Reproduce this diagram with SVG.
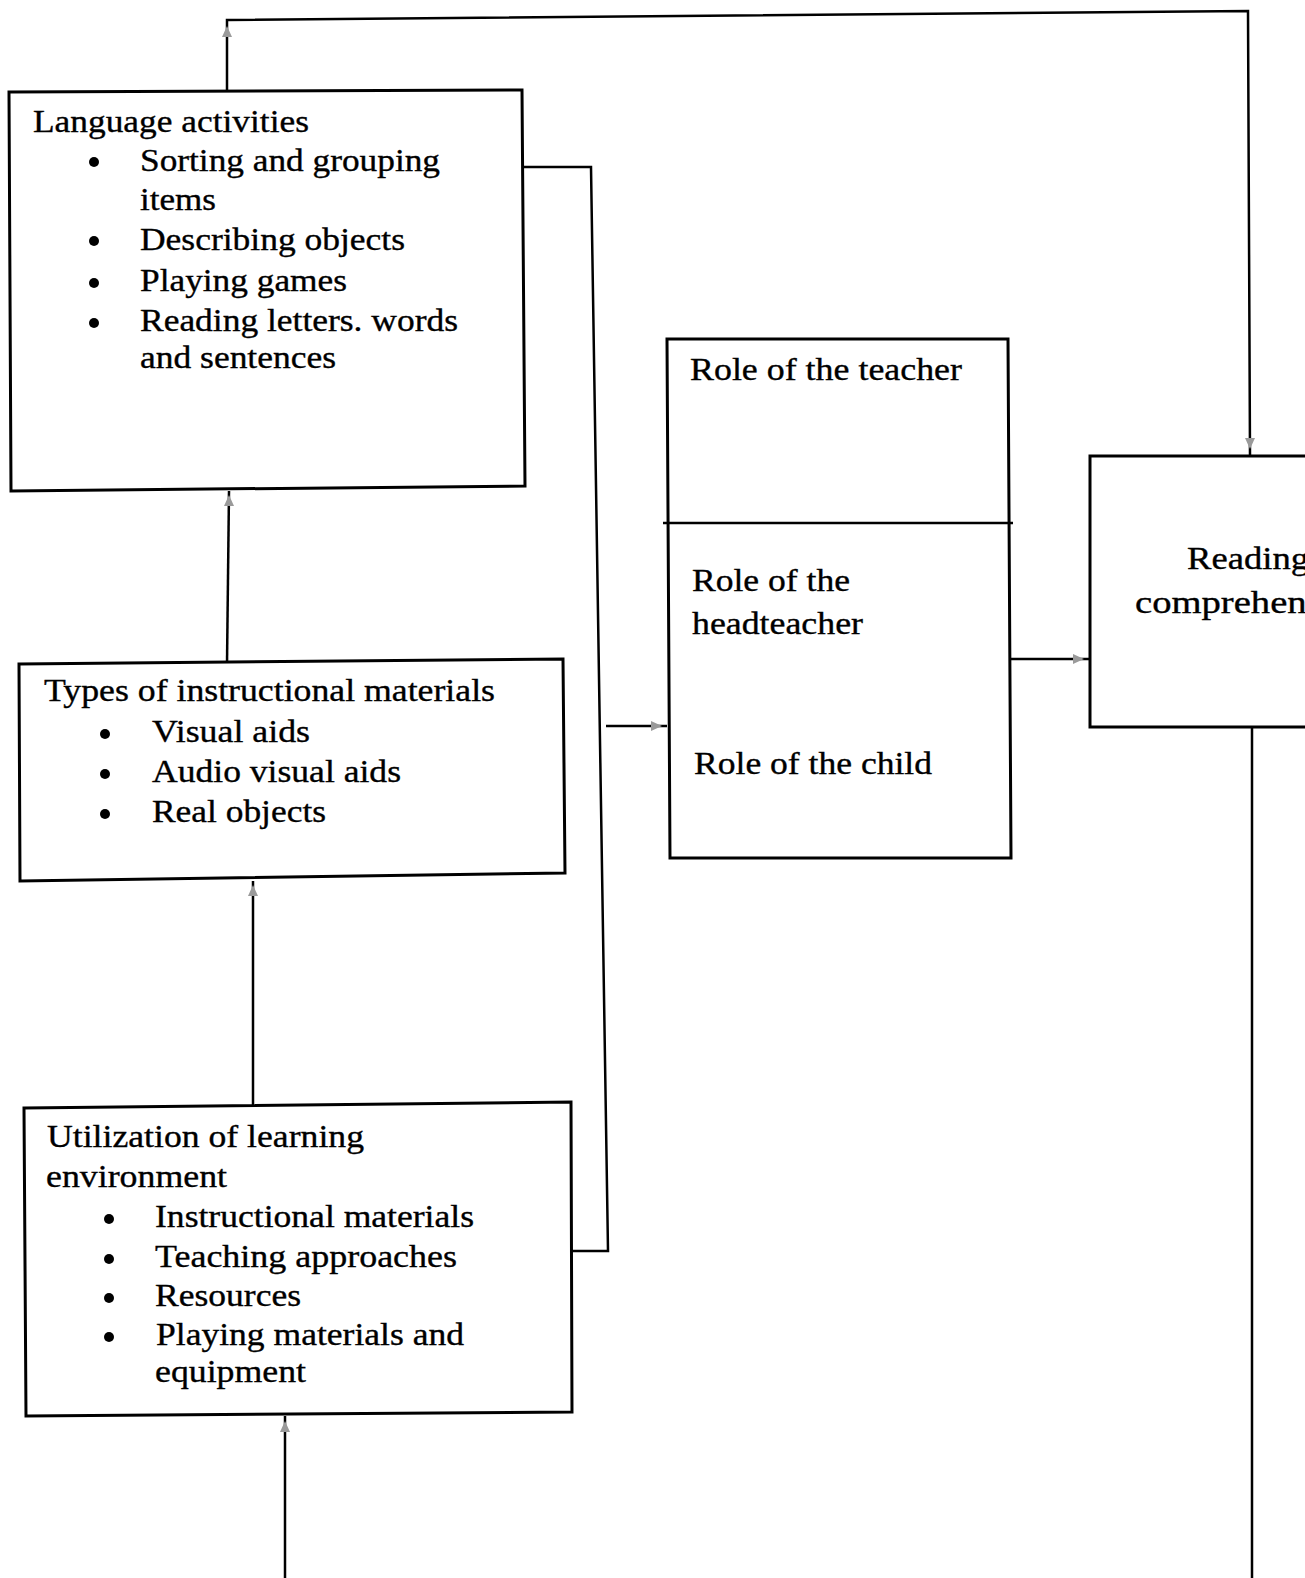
<svg xmlns="http://www.w3.org/2000/svg" width="1305" height="1578" viewBox="0 0 1305 1578">
<style>
.box{fill:#fff;stroke:#000;stroke-width:3;stroke-linejoin:miter}
.ln{fill:none;stroke:#000;stroke-width:2.5}
.t{font-family:"Liberation Serif","Times New Roman",serif;font-size:31px;fill:#000;stroke:#000;stroke-width:0.35}
.dot{fill:#000}
.ah{fill:#9a9a9a}
</style>
<rect width="1305" height="1578" fill="#fff"/>
<g id="connectors">
<path class="ln" d="M227,92 L227,20 L1248,11 L1250,456"/>
<path class="ln" d="M523,167 L591,167 L608,1251 L571,1251"/>
<path class="ln" d="M606,726 L667,726"/>
<path class="ln" d="M1011,659 L1090,659"/>
<path class="ln" d="M227,664 L229,491"/>
<path class="ln" d="M253,1108 L253,881"/>
<path class="ln" d="M285,1578 L285,1416"/>
<path class="ln" d="M1252,727 L1252,1578"/>
<path class="ah" d="M227,26 L222,37 L232,37 Z"/>
<path class="ah" d="M1250,449 L1245,438 L1255,438 Z"/>
<path class="ah" d="M229,495 L224,506 L234,506 Z"/>
<path class="ah" d="M253,885 L248,896 L258,896 Z"/>
<path class="ah" d="M285,1421 L280,1432 L290,1432 Z"/>
<path class="ah" d="M662,726 L651,721 L651,731 Z"/>
<path class="ah" d="M1084,659 L1073,654 L1073,664 Z"/>
</g>
<g id="language-activities">
<path class="box" d="M9,92 L522,90 L525,486 L11,491 Z"/>
<text class="t" x="33" y="132" textLength="276" lengthAdjust="spacingAndGlyphs">Language activities</text>
<circle class="dot" cx="94" cy="162" r="5"/>
<text class="t" x="140" y="171" textLength="300" lengthAdjust="spacingAndGlyphs">Sorting and grouping</text>
<text class="t" x="140" y="210" textLength="76" lengthAdjust="spacingAndGlyphs">items</text>
<circle class="dot" cx="94" cy="241" r="5"/>
<text class="t" x="140" y="250" textLength="265" lengthAdjust="spacingAndGlyphs">Describing objects</text>
<circle class="dot" cx="94" cy="283" r="5"/>
<text class="t" x="140" y="291" textLength="207" lengthAdjust="spacingAndGlyphs">Playing games</text>
<circle class="dot" cx="94" cy="323" r="5"/>
<text class="t" x="140" y="331" textLength="318" lengthAdjust="spacingAndGlyphs">Reading letters. words</text>
<text class="t" x="140" y="368" textLength="196" lengthAdjust="spacingAndGlyphs">and sentences</text>
</g>
<g id="types-of-instructional-materials">
<path class="box" d="M19,664 L563,659 L565,873 L20,881 Z"/>
<text class="t" x="44" y="701" textLength="451" lengthAdjust="spacingAndGlyphs">Types of instructional materials</text>
<circle class="dot" cx="105" cy="734" r="5"/>
<text class="t" x="152" y="742" textLength="158" lengthAdjust="spacingAndGlyphs">Visual aids</text>
<circle class="dot" cx="105" cy="774" r="5"/>
<text class="t" x="152" y="782" textLength="249" lengthAdjust="spacingAndGlyphs">Audio visual aids</text>
<circle class="dot" cx="105" cy="814" r="5"/>
<text class="t" x="152" y="822" textLength="174" lengthAdjust="spacingAndGlyphs">Real objects</text>
</g>
<g id="utilization-of-learning-environment">
<path class="box" d="M24,1108 L571,1102 L572,1412 L26,1416 Z"/>
<text class="t" x="47" y="1147" textLength="317" lengthAdjust="spacingAndGlyphs">Utilization of learning</text>
<text class="t" x="46" y="1187" textLength="181" lengthAdjust="spacingAndGlyphs">environment</text>
<circle class="dot" cx="109" cy="1219" r="5"/>
<text class="t" x="155" y="1227" textLength="319" lengthAdjust="spacingAndGlyphs">Instructional materials</text>
<circle class="dot" cx="109" cy="1259" r="5"/>
<text class="t" x="155" y="1267" textLength="302" lengthAdjust="spacingAndGlyphs">Teaching approaches</text>
<circle class="dot" cx="109" cy="1298" r="5"/>
<text class="t" x="155" y="1306" textLength="146" lengthAdjust="spacingAndGlyphs">Resources</text>
<circle class="dot" cx="109" cy="1337" r="5"/>
<text class="t" x="156" y="1345" textLength="308" lengthAdjust="spacingAndGlyphs">Playing materials and</text>
<text class="t" x="155" y="1382" textLength="151" lengthAdjust="spacingAndGlyphs">equipment</text>
</g>
<g id="roles">
<path class="box" d="M667,339 L1008,339 L1011,858 L670,858 Z"/>
<path class="ln" d="M663,523 L1013,523"/>
<text class="t" x="690" y="380" textLength="272" lengthAdjust="spacingAndGlyphs">Role of the teacher</text>
<text class="t" x="692" y="591" textLength="158" lengthAdjust="spacingAndGlyphs">Role of the</text>
<text class="t" x="692" y="634" textLength="171" lengthAdjust="spacingAndGlyphs">headteacher</text>
<text class="t" x="694" y="774" textLength="238" lengthAdjust="spacingAndGlyphs">Role of the child</text>
</g>
<g id="reading-comprehension">
<path class="box" d="M1090,456 L1420,456 L1420,727 L1090,727 Z"/>
<text class="t" x="1187" y="569" textLength="122" lengthAdjust="spacingAndGlyphs">Reading</text>
<text class="t" x="1135" y="613" textLength="236" lengthAdjust="spacingAndGlyphs">comprehension</text>
</g>
</svg>
